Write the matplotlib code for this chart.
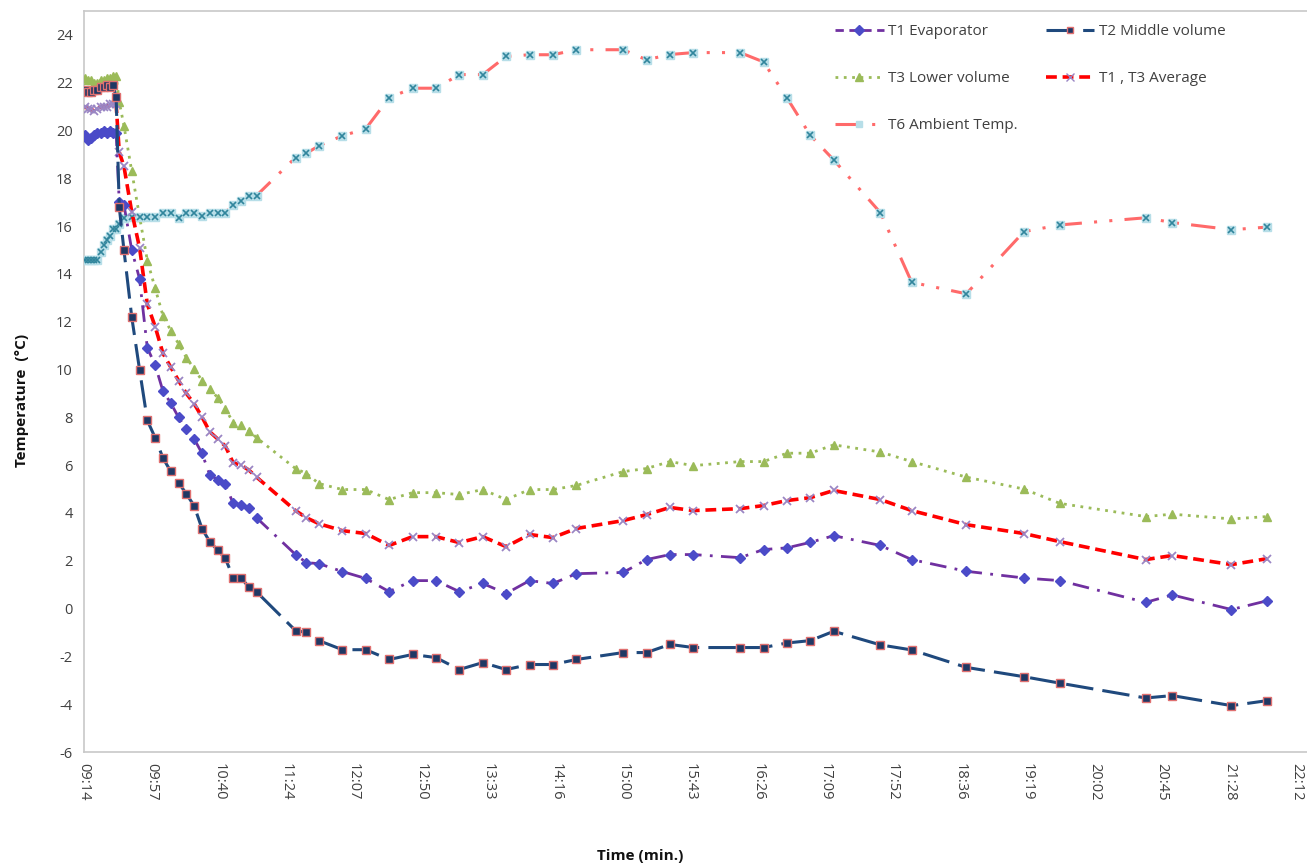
import matplotlib
matplotlib.use("Agg")
import matplotlib.pyplot as plt
from matplotlib.lines import Line2D
import numpy as np

plt.rcParams['font.family'] = ['Open Sans', 'DejaVu Sans']

# ---------------- data ----------------
times = ["09:15", "09:17", "09:19", "09:21", "09:23", "09:25", "09:27", "09:29", "09:31", "09:33",
         "09:35", "09:37", "09:40", "09:45", "09:50",
         "09:55", "10:00", "10:05", "10:10", "10:15", "10:20", "10:25", "10:30", "10:35", "10:40",
         "10:45", "10:50", "10:55", "11:00", "11:05",
         "11:30", "11:37", "11:45", "12:00", "12:15", "12:30", "12:45", "13:00", "13:15", "13:30",
         "13:45", "14:00", "14:15", "14:30", "15:00", "15:15", "15:30", "15:45", "16:15", "16:30",
         "16:45", "17:00", "17:15", "17:45", "18:05", "18:40", "19:17", "19:40", "20:35", "20:52",
         "21:30", "21:53"]

t1_evaporator = [19.8, 19.6, 19.7, 19.8, 19.9, 19.9, 20.0, 19.9, 20.0, 19.9,
                 19.9, 17.0, 16.9, 15.0, 13.8,
                 10.9, 10.2, 9.1, 8.6, 8.0, 7.5, 7.1, 6.5, 5.6, 5.4,
                 5.2, 4.4, 4.35, 4.2, 3.8,
                 2.26, 1.92, 1.88, 1.55, 1.26, 0.71, 1.17, 1.17, 0.71, 1.05,
                 0.63, 1.17, 1.05, 1.46, 1.51, 2.05, 2.26, 2.26, 2.13, 2.47,
                 2.54, 2.77, 3.05, 2.64, 2.05, 1.56, 1.28, 1.17, 0.26, 0.57,
                 -0.04, 0.33]

t2_middle = [21.7, 21.6, 21.6, 21.7, 21.7, 21.8, 21.8, 21.9, 21.8, 21.9,
             21.4, 16.8, 15.0, 12.2, 10.0,
             7.87, 7.15, 6.3, 5.74, 5.27, 4.8, 4.3, 3.35, 2.8, 2.45,
             2.1, 1.3, 1.3, 0.9, 0.7,
             -0.92, -1.0, -1.34, -1.72, -1.72, -2.13, -1.92, -2.05, -2.55, -2.26,
             -2.55, -2.34, -2.34, -2.13, -1.84, -1.84, -1.5, -1.63, -1.63, -1.63,
             -1.44, -1.34, -0.95, -1.52, -1.73, -2.46, -2.85, -3.12, -3.74, -3.64,
             -4.06, -3.85]

t3_lower = [22.2, 22.1, 22.1, 22.0, 22.0, 22.1, 22.1, 22.2, 22.2, 22.3,
            22.3, 21.2, 20.2, 18.3, 16.4,
            14.56, 13.4, 12.26, 11.63, 11.08, 10.5, 10.04, 9.54, 9.2, 8.83,
            8.37, 7.78, 7.66, 7.45, 7.15,
            5.86, 5.65, 5.23, 4.98, 4.98, 4.56, 4.85, 4.85, 4.77, 4.98,
            4.56, 4.98, 4.98, 5.15, 5.73, 5.86, 6.15, 5.98, 6.15, 6.15,
            6.5, 6.5, 6.85, 6.55, 6.15, 5.5, 5.0, 4.4, 3.85, 3.95,
            3.75, 3.85]

t1_t3_average = [21.0, 20.9, 20.9, 20.8, 20.9, 21.0, 21.0, 21.0, 21.1, 21.1,
                 21.1, 19.1, 18.5, 16.6, 15.1,
                 12.73, 11.8, 10.68, 10.1, 9.54, 9.0, 8.57, 8.02, 7.4, 7.1,
                 6.8, 6.1, 6.0, 5.8, 5.5,
                 4.1, 3.8, 3.55, 3.26, 3.14, 2.64, 3.01, 3.01, 2.76, 3.01,
                 2.59, 3.1, 2.97, 3.35, 3.68, 3.93, 4.23, 4.1, 4.18, 4.31,
                 4.52, 4.64, 4.94, 4.56, 4.1, 3.51, 3.14, 2.8, 2.05, 2.22,
                 1.84, 2.09]

t6_ambient = [14.6, 14.6, 14.6, 14.6, 14.6, 14.9, 15.2, 15.4, 15.6, 15.9,
              15.9, 16.1, 16.36, 16.4, 16.4,
              16.4, 16.4, 16.57, 16.57, 16.36, 16.53, 16.53, 16.44, 16.57, 16.57,
              16.57, 16.9, 17.07, 17.28, 17.28,
              18.87, 19.05, 19.36, 19.78, 20.07, 21.37, 21.77, 21.77, 22.34, 22.34,
              23.1, 23.17, 23.17, 23.38, 23.38, 22.96, 23.18, 23.26, 23.26, 22.87,
              21.37, 19.8, 18.77, 16.56, 13.65, 13.17, 15.77, 16.05, 16.35, 16.15,
              15.85, 15.96]

x_tick_labels = ["09:14", "09:57", "10:40", "11:24", "12:07", "12:50", "13:33", "14:16", "15:00",
                 "15:43", "16:26", "17:09", "17:52", "18:36", "19:19", "20:02", "20:45", "21:28", "22:12"]
y_ticks = list(range(-6, 25, 2))

# ---------------- helpers ----------------
def to_day(s):
    h, m = s.split(":")
    return (int(h) * 60 + int(m)) / 1440.0

x = np.array([to_day(s) for s in times])
x_tick_pos = [0.385 + 0.03 * i for i in range(len(x_tick_labels))]

W, H = 1307, 867
fig = plt.figure(figsize=(W / 100, H / 100), dpi=100)
ax_left, ax_right, ax_top, ax_bottom = 84, 1307, 11, 752
ax = fig.add_axes([ax_left / W, 1 - ax_bottom / H, (ax_right - ax_left) / W, (ax_bottom - ax_top) / H])

px_per_day = (1297 - 84) / 0.54
ax.set_xlim(0.385, 0.385 + (ax_right - ax_left) / px_per_day)
ax.set_ylim(-6, 25)

# series styles
c_t1 = '#7030A0'
c_t2 = '#1F497D'
c_t3 = '#9BBB59'
c_avg = '#FF0000'
c_t6 = '#FF6A6A'

ax.plot(x, t3_lower, color=c_t3, lw=2.0, ls=(0, (1, 2)), marker='^', ms=6,
        mfc=c_t3, mec=c_t3, zorder=3)
ax.plot(x, t6_ambient, color=c_t6, lw=2.2, ls=(0, (8, 4, 1, 4, 1, 4)), marker='s', ms=6,
        mfc='#B7DEE8', mec='#B7DEE8', zorder=4)
ax.plot(x, t6_ambient, ls='none', marker='x', ms=4, mec='#31859C', mew=1.2, zorder=4)
ax.plot(x, t1_t3_average, color=c_avg, lw=2.6, ls=(0, (3, 1.6)), marker='x', ms=6,
        mec='#9A86C4', mew=1.3, zorder=5)
ax.plot(x, t1_evaporator, color=c_t1, lw=2.0, ls=(0, (6, 3, 1, 3)), marker='D', ms=5,
        mfc='#4B4BC8', mec='#4B4BC8', zorder=6)
ax.plot(x, t2_middle, color=c_t2, lw=2.2, ls=(0, (9, 3)), marker='s', ms=5.5,
        mfc='#1F3864', mec='#E07070', mew=1.0, zorder=7)

# axes styling
for side in ['left', 'bottom', 'top']:
    ax.spines[side].set_color('#C8C8C8')
    ax.spines[side].set_linewidth(1.2)
ax.spines['right'].set_visible(False)
ax.set_yticks(y_ticks)
ax.set_yticklabels([str(v) for v in y_ticks], fontsize=10.5, color='#404040')
ax.set_xticks(x_tick_pos)
ax.set_xticklabels(x_tick_labels, rotation=-90, fontsize=10.5, color='#404040')
ax.tick_params(axis='both', length=0, pad=8)

fig.text(22 / W, 1 - 400 / H, 'Temperature  (°C)', rotation=90, ha='center', va='center',
         fontsize=11, fontweight='bold', color='#111111')
fig.text(640 / W, 1 - 856 / H, 'Time (min.)', ha='center', va='center',
         fontsize=11, fontweight='bold', color='#111111')

# legend
h_t1 = Line2D([], [], color=c_t1, lw=2.0, ls=(0, (3, 2)), marker='D', ms=5, mfc='#4B4BC8', mec='#4B4BC8')
h_t2 = Line2D([], [], color=c_t2, lw=2.2, ls=(0, (9, 3)), marker='s', ms=5, mfc='#1F3864', mec='#E07070')
h_t3 = Line2D([], [], color=c_t3, lw=2.0, ls=(0, (1, 2)), marker='^', ms=6, mfc=c_t3, mec=c_t3)
h_avg = Line2D([], [], color=c_avg, lw=2.6, ls=(0, (3, 1.6)), marker='x', ms=6, mec='#9A86C4')
h_t6 = Line2D([], [], color=c_t6, lw=2.2, ls=(0, (8, 4, 1, 4)), marker='s', ms=5, mfc='#B7DEE8', mec='#B7DEE8')
leg = fig.legend([h_t1, h_t3, h_t6, h_t2, h_avg],
                 ['T1 Evaporator', 'T3 Lower volume', 'T6 Ambient Temp.', 'T2 Middle volume', 'T1 , T3 Average'],
                 ncol=2, frameon=False, loc='upper left', bbox_to_anchor=(835 / W, 1 - 24 / H),
                 borderpad=0, borderaxespad=0, handlelength=3.2, handletextpad=0.3,
                 labelspacing=2.1, columnspacing=1.8, fontsize=11)
for t in leg.get_texts():
    t.set_color('#404040')

fig.savefig('out.png', dpi=100)
